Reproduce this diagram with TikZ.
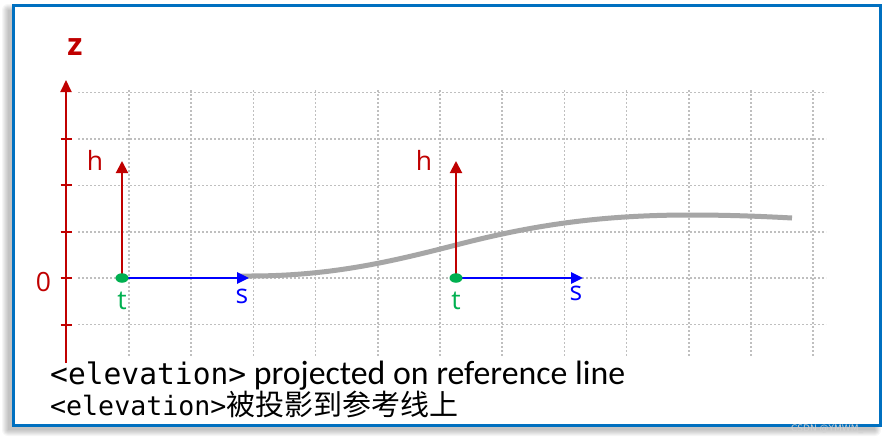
\documentclass[tikz,border=0pt]{standalone}
\usepackage{fontspec}
\setmainfont{Open Sans}
\newfontfamily\labfont{Open Sans}
\newfontfamily\monofnt{DejaVu Sans Mono}
\newfontfamily\calfont{Carlito}
\newfontfamily\cjkfont{Noto Sans CJK SC}
\newfontfamily\wmfont{DejaVu Sans}
\usetikzlibrary{arrows.meta,shapes.geometric}
\definecolor{frameblue}{HTML}{0070C0}
\definecolor{axred}{HTML}{C00000}
\definecolor{tgreen}{HTML}{00B050}
\definecolor{sblue}{HTML}{0000FF}
\definecolor{gridgray}{HTML}{BFBFBF}
\definecolor{curvegray}{HTML}{A6A6A6}
\begin{document}
\begin{tikzpicture}[x=1pt,y=-1pt,
  gridline/.style={draw=gridgray, line width=1.5pt, dash pattern=on 1.8pt off 2.2pt},
  zaxis/.style={draw=axred, line width=2pt, -{Triangle[length=12pt,width=11pt]}},
  tickmark/.style={draw=axred, line width=2pt},
  harrow/.style={draw=axred, line width=2pt, -{Triangle[length=12pt,width=12pt]}},
  sarrow/.style={draw=sblue, line width=2.5pt, -{Triangle[length=12pt,width=11pt]}},
  curveline/.style={draw=curvegray, line width=5pt},
  tdot/.style={ellipse, fill=tgreen, minimum width=13pt, minimum height=9.5pt, inner sep=0pt},
  lab/.style={anchor=base, inner sep=0pt, font=\labfont\fontsize{26.5}{26.5}\selectfont},
  framebox/.style={draw=frameblue, line width=3pt, fill=white}
]
\useasboundingbox (0,0) rectangle (886,442);
\fill[white] (0,0) rectangle (886,442);
% shadow
\foreach \e in {0,...,6}
  \fill[black, opacity=0.035, rounded corners=\e pt] ({13-5-\e},{5+5-\e}) rectangle ({880-5+\e},{425+5+\e});
% frame
\draw[framebox] (13,5) rectangle (880,425);
% grid
\foreach \yy in {92.6,139,185.4,231.8,278.2,324.6}
  \draw[gridline] (78,\yy) -- (826,\yy);
\foreach \k in {0,...,11}
  \draw[gridline] ({129+62.2*\k},90) -- ({129+62.2*\k},357);
% z axis
\coordinate (zbase) at (66,363);
\coordinate (ztip) at (66,80);
\draw[zaxis] (zbase) -- (ztip);
\foreach \yy in {139,185.4,231.8,278.2,324.6}
  \draw[tickmark] (60.5,\yy) -- (72,\yy);
\node[anchor=base, inner sep=0pt, text=axred, font=\labfont\bfseries\fontsize{31}{31}\selectfont] (zlab) at (75,55) {z};
\node[lab, text=axred] (zero) at (43.5,291) {0};
% elevation curve
\draw[curveline] (240,276) -- (250,276) .. controls (330,276) and (390,262) .. (456,245)
  .. controls (522,228) and (590,215) .. (690,215)
  .. controls (730,215) and (765,216.5) .. (792,218);
% first local frame
\coordinate (t1) at (122,278);
\coordinate (h1) at (122,161);
\coordinate (s1) at (249,278);
\draw[harrow] (t1) -- (h1);
\draw[sarrow] (t1) -- (s1);
\node[tdot] (d1) at (t1) {};
\node[lab, text=axred] (hl1) at (95,170) {h};
\node[lab, text=tgreen] (tl1) at (122,309) {t};
\node[lab, text=sblue] (sl1) at (242,303) {s};
% second local frame
\coordinate (t2) at (456,278);
\coordinate (h2) at (456,161);
\coordinate (s2) at (583,278);
\draw[harrow] (t2) -- (h2);
\draw[sarrow] (t2) -- (s2);
\node[tdot] (d2) at (t2) {};
\node[lab, text=axred] (hl2) at (424,170) {h};
\node[lab, text=tgreen] (tl2) at (456,309) {t};
\node[lab, text=sblue] (sl2) at (576,300) {s};
% captions
\node[anchor=base west, inner sep=0pt] (line1) at (50,384)
  {{\monofnt\fontsize{29.6}{30}\selectfont <elevation>}{\calfont\fontsize{33.8}{34}\selectfont\ projected on reference line}};
\node[anchor=base west, inner sep=0pt] (line2) at (50,415)
  {{\monofnt\fontsize{26.6}{27}\selectfont <elevation>}{\cjkfont\fontsize{29}{29}\selectfont 被投影到参考线上}};
% watermark
\node[anchor=base west, inner sep=0pt, text=gray!35, font=\wmfont\fontsize{9}{9}\selectfont] (wm) at (791,431) {CSDN @YMWM\_};
\end{tikzpicture}
\end{document}
